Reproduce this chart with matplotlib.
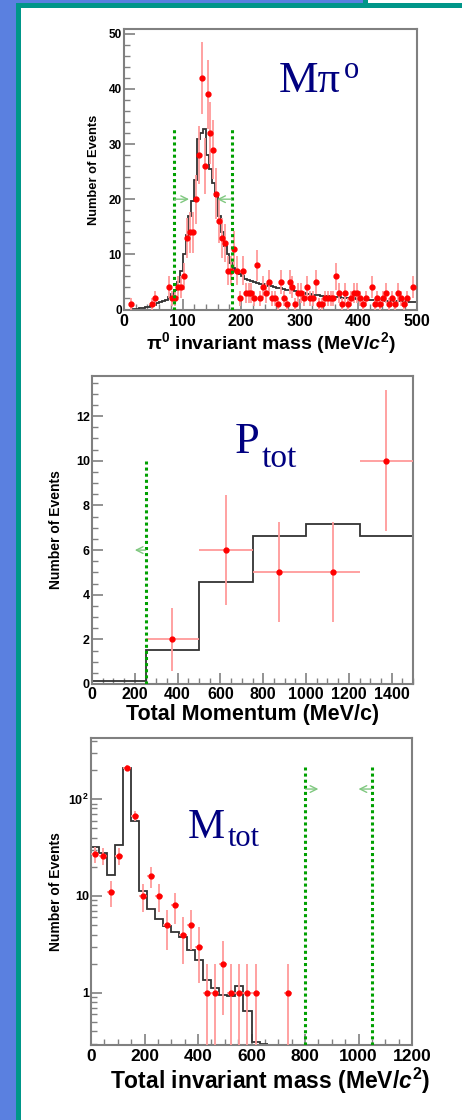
import numpy as np
import matplotlib
matplotlib.use("Agg")
import matplotlib.pyplot as plt
from matplotlib.patches import Rectangle
from matplotlib.ticker import MultipleLocator, FixedLocator, FixedFormatter, NullFormatter, LogLocator

W, H = 462, 1120

# pi0 invariant mass, 5 MeV bins, 0..500
mpi_bin = 5
mpi_mc = [0, 0, 0, 0.05, 0.1, 0.2, 0.3, 0.4, 0.5, 0.7,
          0.9, 1.1, 1.3, 1.5, 1.8, 2.2, 2.8, 3.6, 5.0, 7.0,
          10.0, 13.5, 17.0, 19.6, 23.5, 31.0, 32.0, 32.8, 28.0, 25.5,
          23.0, 20.5, 17.0, 14.0, 11.5, 10.0, 8.5, 7.6, 6.9, 6.4,
          6.0, 5.6, 5.4, 5.1, 5.0, 4.8, 4.7, 4.6, 4.4, 4.3,
          4.2, 4.0, 3.9, 3.9, 3.7, 3.6, 3.5, 3.5, 3.3, 3.2,
          3.2, 3.0, 2.9, 2.9, 2.7, 2.6, 2.6, 2.5, 2.4, 2.4,
          2.3, 2.2, 2.2, 2.2, 2.1, 2.1, 2.0, 2.0, 2.0, 1.9,
          1.9, 1.9, 1.8, 1.8, 1.8, 1.7, 1.7, 1.7, 1.7, 1.6,
          1.6, 1.6, 1.6, 1.5, 1.5, 1.5, 1.5, 1.4, 1.4, 1.4]
mpi_data_x = [12.5, 47.5, 52.5, 77.5, 82.5, 87.5, 92.5, 97.5, 102.5, 107.5,
              112.5, 117.5, 122.5, 127.5, 132.5, 137.5, 142.5, 147.5, 152.5, 157.5,
              162.5, 167.5, 172.5, 177.5, 182.5, 187.5, 192.5, 197.5, 202.5, 207.5,
              212.5, 217.5, 222.5, 227.5, 232.5, 237.5, 242.5, 247.5, 252.5, 257.5,
              262.5, 267.5, 272.5, 277.5, 282.5, 287.5, 292.5, 297.5, 302.5, 307.5,
              312.5, 317.5, 322.5, 327.5, 332.5, 337.5, 342.5, 347.5, 352.5, 357.5,
              362.5, 367.5, 372.5, 377.5, 382.5, 387.5, 392.5, 397.5, 402.5, 407.5,
              412.5, 422.5, 427.5, 432.5, 437.5, 442.5, 447.5, 452.5, 457.5, 462.5,
              467.5, 472.5, 477.5, 482.5, 492.5]
mpi_data_n = [1, 1, 2, 4, 2, 2, 4, 4, 6, 13,
              14, 14, 20, 28, 42, 26, 39, 32, 29, 21,
              16, 13, 12, 7, 7, 11, 7, 2, 7, 3,
              3, 3, 2, 8, 2, 4, 3, 5, 2, 2,
              1, 5, 2, 1, 5, 4, 1, 3, 3, 2,
              4, 2, 2, 5, 1, 1, 2, 2, 2, 2,
              6, 3, 1, 3, 1, 2, 3, 3, 2, 1,
              2, 4, 1, 2, 1, 2, 3, 1, 2, 1,
              3, 2, 1, 2, 4]
mpi_cuts = [85, 185]

# total momentum, 250 MeV/c bins
ptot_edges = [0, 250, 500, 750, 1000, 1250, 1500]
ptot_mc = [0.15, 1.52, 4.58, 6.63, 7.19, 6.62]
ptot_data_x = [375, 625, 875, 1125, 1375]
ptot_data_n = [2, 6, 5, 5, 10]
ptot_cut = 250

# total invariant mass, 30 MeV bins, log scale
mtot_bin = 30
mtot_mc = [31.8, 27.7, 16.6, 33.3, 209, 58.9, 11.2, 7.4, 5.8, 4.9, 4.3,
           3.8, 2.8, 2.2, 1.37, 1.13, 0.95, 0.93, 1.19, 0.65, 0.31, 0.30]
mtot_data_x = [15, 45, 75, 105, 135, 165, 195, 225, 255, 285, 315,
               345, 375, 405, 435, 465, 495, 525, 555, 585, 615, 735]
mtot_data_n = [27, 26, 11, 26, 210, 67, 10, 16, 10, 5, 8,
               4, 5, 3, 1, 1, 2, 1, 1, 1, 1, 1]
mtot_cuts = [800, 1050]

plt.rcParams['font.family'] = ['Liberation Sans', 'DejaVu Sans']
plt.rcParams['font.weight'] = 'bold'
plt.rcParams['mathtext.fontset'] = 'custom'
plt.rcParams['mathtext.rm'] = 'Liberation Sans:bold'
plt.rcParams['mathtext.bf'] = 'Liberation Sans:bold'
plt.rcParams['mathtext.it'] = 'Liberation Sans:italic:bold'

BLUE = '#5a80e0'
TEAL = '#009689'
NAVY = '#000080'
FRAME = '#808080'
GREEN = '#00a000'
ARROW = '#80c880'


def fx(x):
    return x / W


def fy(y):
    return 1 - y / H


fig = plt.figure(figsize=(W / 100, H / 100), dpi=100, facecolor=BLUE)

# slide background: teal border and white panel
fig.add_artist(Rectangle((fx(15.7), -0.1), 1.2, fy(3.3) + 0.1, transform=fig.transFigure,
                         facecolor=TEAL, edgecolor='none', zorder=0))
fig.add_artist(Rectangle((fx(20.7), -0.1), 1.2, fy(8.3) + 0.1, transform=fig.transFigure,
                         facecolor='white', edgecolor='none', zorder=0))
fig.add_artist(Rectangle((fx(362.7), fy(3.3)), fx(5.6), 3.3 / H, transform=fig.transFigure,
                         facecolor=TEAL, edgecolor='none', zorder=0))
fig.add_artist(Rectangle((fx(368.3), fy(3.0)), 0.5, 3.0 / H, transform=fig.transFigure,
                         facecolor='white', edgecolor='none', zorder=0))


def make_axes(left, top, right, bottom):
    ax = fig.add_axes([fx(left), fy(bottom), fx(right) - fx(left), fy(top) - fy(bottom)])
    ax.set_facecolor('white')
    for s in ax.spines.values():
        s.set_color(FRAME)
        s.set_linewidth(1.5)
    ax.tick_params(which='both', direction='in', color=FRAME, top=False, right=False)
    ax.tick_params(which='major', length=8, width=1.2)
    ax.tick_params(which='minor', length=4, width=1.0)
    return ax


def draw_cut(ax, x, top):
    ax.plot([x, x], [ax.get_ylim()[0], top], ls=(0, (1, 1)), color=GREEN, lw=2.2, zorder=4)


def draw_arrow(ax, x0, x1, y):
    ax.annotate('', xy=(x1, y), xytext=(x0, y),
                arrowprops=dict(arrowstyle='->', color=ARROW, lw=1.0,
                                mutation_scale=12, shrinkA=0, shrinkB=0), zorder=4)


def draw_data(ax, x, n, half):
    n = np.array(n, dtype=float)
    ax.errorbar(x, n, yerr=np.sqrt(n), xerr=half, fmt='o', ms=3.5, color='red',
                ecolor='#ff9a9a', elinewidth=1.3, capsize=0, zorder=3)


# ---------------- panel 1 ----------------
ax1 = make_axes(124, 29.3, 417, 309.5)
edges1 = np.arange(len(mpi_mc) + 1) * mpi_bin
ax1.set_xlim(0, 500)
ax1.set_ylim(0, 50.8)
ax1.stairs(mpi_mc, edges1, baseline=None, color='#333333', lw=1.3, zorder=2)
draw_data(ax1, mpi_data_x, mpi_data_n, mpi_bin / 2)
for c in mpi_cuts:
    draw_cut(ax1, c, 33)
draw_arrow(ax1, 86, 111, 20)
draw_arrow(ax1, 183, 159, 20)
ax1.xaxis.set_major_locator(MultipleLocator(100))
ax1.xaxis.set_minor_locator(MultipleLocator(20))
ax1.yaxis.set_major_locator(MultipleLocator(10))
ax1.yaxis.set_minor_locator(MultipleLocator(2))
ax1.tick_params(axis='x', labelsize=11.5, pad=3)
ax1.tick_params(axis='y', labelsize=8.5, pad=1.5)
ax1.set_xlabel('π$^{0}$ invariant mass (MeV/$c^{2}$)', fontsize=14, fontweight='bold')
ax1.xaxis.set_label_coords(0.502, -0.072)
ax1.set_ylabel('Number of Events', fontsize=9.3, fontweight='bold')
ax1.yaxis.set_label_coords(-0.082, 0.5)

# ---------------- panel 2 ----------------
ax2 = make_axes(92, 376, 413, 684)
ax2.set_xlim(0, 1500)
ax2.set_ylim(0, 13.8)
ax2.stairs(ptot_mc, ptot_edges, baseline=None, color='#333333', lw=1.3, zorder=2)
draw_data(ax2, ptot_data_x, ptot_data_n, 125)
draw_cut(ax2, ptot_cut, 10)
draw_arrow(ax2, 250, 200, 6)
ax2.xaxis.set_major_locator(MultipleLocator(200))
ax2.xaxis.set_minor_locator(MultipleLocator(50))
ax2.yaxis.set_major_locator(MultipleLocator(2))
ax2.yaxis.set_minor_locator(MultipleLocator(0.5))
ax2.tick_params(axis='x', labelsize=11.5, pad=2)
ax2.tick_params(axis='y', labelsize=9, pad=1.5)
ax2.set_xlabel('Total Momentum (MeV/c)', fontsize=15.5, fontweight='bold')
ax2.xaxis.set_label_coords(0.5, -0.066)
ax2.set_ylabel('Number of Events', fontsize=10, fontweight='bold')
ax2.yaxis.set_label_coords(-0.09, 0.5)

# ---------------- panel 3 ----------------
ax3 = make_axes(91, 738, 412, 1045)
edges3 = np.arange(len(mtot_mc) + 1) * mtot_bin
ax3.set_yscale('log')
ax3.set_xlim(0, 1200)
ax3.set_ylim(0.29, 427)
ax3.stairs(mtot_mc, edges3, baseline=None, color='#333333', lw=1.3, zorder=2)
draw_data(ax3, mtot_data_x, mtot_data_n, mtot_bin / 2)
for c in mtot_cuts:
    draw_cut(ax3, c, 212)
draw_arrow(ax3, 802, 850, 127)
draw_arrow(ax3, 1048, 1000, 127)
ax3.xaxis.set_major_locator(MultipleLocator(200))
ax3.xaxis.set_minor_locator(MultipleLocator(50))
ax3.yaxis.set_major_locator(FixedLocator([1, 10, 100]))
ax3.yaxis.set_major_formatter(FixedFormatter(['1', '10', r'$10^{2}$']))
ax3.yaxis.set_minor_locator(LogLocator(subs=np.arange(2, 10)))
ax3.yaxis.set_minor_formatter(NullFormatter())
ax3.tick_params(axis='x', labelsize=12.5, pad=3)
ax3.tick_params(axis='y', labelsize=9, pad=1.5)
ax3.set_xlabel('Total invariant mass (MeV/$c^{2}$)', fontsize=16.5, fontweight='bold')
ax3.xaxis.set_label_coords(0.557, -0.068)
ax3.set_ylabel('Number of Events', fontsize=10, fontweight='bold')
ax3.yaxis.set_label_coords(-0.087, 0.5)

# slide titles
serif = 'Liberation Serif'
fig.text(fx(279), fy(92), 'Mπ', family=serif, fontsize=32, color=NAVY,
         fontweight='normal', va='baseline', ha='left')
fig.text(fx(344), fy(78), 'o', family=serif, fontsize=22, color=NAVY,
         fontweight='normal', va='baseline', ha='left')
fig.text(fx(235), fy(453), 'P', family=serif, fontsize=32, color=NAVY,
         fontweight='normal', va='baseline', ha='left')
fig.text(fx(262), fy(467), 'tot', family=serif, fontsize=24, color=NAVY,
         fontweight='normal', va='baseline', ha='left')
fig.text(fx(188), fy(838), 'M', family=serif, fontsize=30, color=NAVY,
         fontweight='normal', va='baseline', ha='left')
fig.text(fx(228), fy(846), 'tot', family=serif, fontsize=22, color=NAVY,
         fontweight='normal', va='baseline', ha='left')

fig.savefig('out.png', dpi=100, facecolor=BLUE)
